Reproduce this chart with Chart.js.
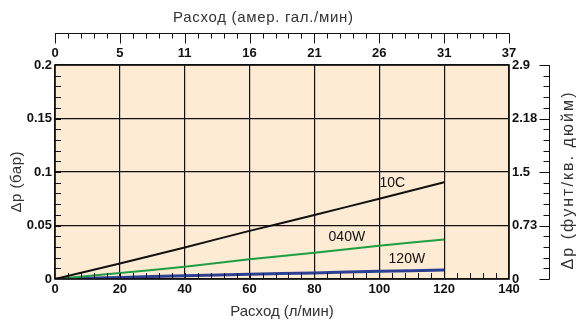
<!DOCTYPE html>
<html lang="ru">
<head>
<meta charset="UTF-8">
<title>Δp – Расход</title>
<script src="https://cdn.jsdelivr.net/npm/chart.js"></script>
<style>
  body { margin: 0; background: #ffffff; }
  .wrap { width: 577px; height: 322px; position: relative; }
</style>
</head>
<body>
<div class="wrap"><canvas id="dpChart" width="577" height="322"></canvas></div>
<script>
  // flow, l/min
  const flowLpm = [0, 20, 40, 60, 80, 100, 120];
  // pressure drop, bar
  const dp10C  = [0, 0.0145, 0.0295, 0.045, 0.0598, 0.075, 0.0905];
  const dp040W = [0, 0.0055, 0.0115, 0.0185, 0.0246, 0.031, 0.037];
  const dp120W = [0, 0.0015, 0.003, 0.0045, 0.0057, 0.0072, 0.0084];

  const seriesNames  = ['10C', '040W', '120W'];
  const seriesColors = ['#111111', '#1f9e45', '#2b3f95'];
  const seriesWidths = [2, 2, 3];
  // where the series name sits (x in l/min, y in bar)
  const nameAtX = [104, 90, 108.5];
  const nameAtY = [0.0897, 0.0395, 0.0184];

  // secondary axes
  const galTickAt     = [0, 20, 40, 60, 80, 100, 120, 140];
  const galTickLabels = ['0', '5', '11', '16', '21', '26', '31', '37'];
  const psiTickAt     = [0, 0.05, 0.1, 0.15, 0.2];
  const psiTickLabels = ['0', '0.73', '1.5', '2.18', '2.9'];

  const FONT = "'Liberation Sans', Arial, sans-serif";
  const INK = '#111111';
  const TITLE_INK = '#333333';

  function pts(ys) {
    return flowLpm.map((x, i) => ({ x: x, y: ys[i] }));
  }

  // draw text stretched (letter spacing) to a given width, centred at 0,0
  function spacedText(ctx, text, width) {
    ctx.letterSpacing = '0px';
    const w = ctx.measureText(text).width;
    const gap = Math.max(0, (width - w) / (text.length - 1));
    ctx.letterSpacing = gap.toFixed(2) + 'px';
    ctx.textAlign = 'left';
    ctx.fillText(text, -width / 2, 0);
    ctx.letterSpacing = '0px';
  }

  const extras = {
    id: 'extras',
    beforeDraw(chart) {
      const { ctx, chartArea: a } = chart;
      ctx.save();
      ctx.fillStyle = '#fdebd3';
      ctx.fillRect(a.left, a.top, a.right - a.left, a.bottom - a.top);
      ctx.restore();
    },
    afterDatasetsDraw(chart) {
      const { ctx } = chart;
      const xs = chart.scales.x, ys = chart.scales.y;
      ctx.save();
      ctx.fillStyle = INK;
      ctx.font = '14px ' + FONT;
      ctx.textAlign = 'center';
      ctx.textBaseline = 'middle';
      seriesNames.forEach((n, i) => {
        ctx.fillText(n, xs.getPixelForValue(nameAtX[i]), ys.getPixelForValue(nameAtY[i]));
      });
      ctx.restore();
    },
    afterDraw(chart) {
      const { ctx, chartArea: a } = chart;
      const xs = chart.scales.x, ys = chart.scales.y;
      ctx.save();
      ctx.strokeStyle = INK;
      ctx.fillStyle = INK;

      // inner minor ticks, left and bottom edges
      ctx.lineWidth = 1;
      ctx.beginPath();
      for (let v = 0.01; v < 0.2; v += 0.01) {
        const py = Math.round(ys.getPixelForValue(v)) + 0.5;
        ctx.moveTo(a.left, py); ctx.lineTo(a.left + 6, py);
      }
      for (let v = 4; v < 140; v += 4) {
        const px = Math.round(xs.getPixelForValue(v)) + 0.5;
        ctx.moveTo(px, a.bottom); ctx.lineTo(px, a.bottom - 6);
      }
      ctx.stroke();

      // plot frame
      ctx.lineWidth = 1.6;
      ctx.strokeRect(a.left, a.top, a.right - a.left, a.bottom - a.top);

      // top ruler (US gal/min)
      const ry = 33.5;
      ctx.lineWidth = 1;
      ctx.beginPath();
      ctx.moveTo(a.left, ry); ctx.lineTo(a.right, ry);
      for (let v = 0; v <= 140; v += 4) {
        const px = Math.round(xs.getPixelForValue(v)) + 0.5;
        ctx.moveTo(px, ry); ctx.lineTo(px, ry + 5);
      }
      galTickAt.forEach(v => {
        const px = Math.round(xs.getPixelForValue(v)) + 0.5;
        ctx.moveTo(px, ry); ctx.lineTo(px, ry + 10);
      });
      ctx.stroke();
      ctx.font = 'bold 13px ' + FONT;
      ctx.textAlign = 'center';
      ctx.textBaseline = 'middle';
      galTickAt.forEach((v, i) => {
        ctx.fillText(galTickLabels[i], xs.getPixelForValue(v), 53);
      });

      // right ruler (psi)
      const rx = 549.5;
      ctx.beginPath();
      ctx.moveTo(rx, a.top); ctx.lineTo(rx, a.bottom);
      for (let v = 0; v <= 0.2001; v += 0.01) {
        const py = Math.round(ys.getPixelForValue(v)) + 0.5;
        ctx.moveTo(rx, py); ctx.lineTo(rx - 6, py);
      }
      psiTickAt.forEach(v => {
        const py = Math.round(ys.getPixelForValue(v)) + 0.5;
        ctx.moveTo(rx, py); ctx.lineTo(rx - 10, py);
      });
      ctx.stroke();
      ctx.textAlign = 'left';
      psiTickAt.forEach((v, i) => {
        ctx.fillText(psiTickLabels[i], a.right + 3, ys.getPixelForValue(v));
      });

      // titles: top, left, right
      ctx.fillStyle = TITLE_INK;
      ctx.font = '15px ' + FONT;
      ctx.save();
      ctx.translate(263, 18);
      spacedText(ctx, 'Расход (амер. гал./мин)', 180);
      ctx.restore();

      ctx.save();
      ctx.translate(17, 182);
      ctx.rotate(-Math.PI / 2);
      spacedText(ctx, 'Δp (бар)', 61);
      ctx.restore();

      ctx.font = '16px ' + FONT;
      ctx.save();
      ctx.translate(569, 181);
      ctx.rotate(-Math.PI / 2);
      spacedText(ctx, 'Δp (фунт/кв. дюйм)', 177);
      ctx.restore();

      ctx.restore();
    }
  };

  new Chart(document.getElementById('dpChart'), {
    type: 'line',
    data: {
      datasets: [
        { label: seriesNames[0], data: pts(dp10C) },
        { label: seriesNames[1], data: pts(dp040W) },
        { label: seriesNames[2], data: pts(dp120W) }
      ].map((d, i) => Object.assign(d, {
        borderColor: seriesColors[i],
        borderWidth: seriesWidths[i],
        pointRadius: 0,
        tension: 0.1,
        fill: false
      }))
    },
    options: {
      responsive: false,
      animation: false,
      layout: { padding: { top: 65, right: 68, left: 0, bottom: 0 } },
      plugins: { legend: { display: false }, tooltip: { enabled: false } },
      scales: {
        x: {
          type: 'linear',
          min: 0, max: 140,
          afterFit(s) { s.height = 43; },
          ticks: { stepSize: 20, color: INK, padding: 3, font: { family: FONT, size: 13, weight: 'bold' } },
          grid: { color: INK, lineWidth: 1.2, drawTicks: false },
          border: { display: false },
          title: { display: true, text: 'Расход (л/мин)', color: TITLE_INK, padding: { top: 0, bottom: 1 }, font: { family: FONT, size: 15 } }
        },
        y: {
          min: 0, max: 0.2,
          afterFit(s) { s.width = 55; },
          ticks: {
            stepSize: 0.05, color: INK, padding: 3,
            font: { family: FONT, size: 13, weight: 'bold' },
            callback: v => String(Number(v.toFixed(2)))
          },
          grid: { color: INK, lineWidth: 1.2, drawTicks: false },
          border: { display: false }
        }
      }
    },
    plugins: [extras]
  });
</script>
</body>
</html>
